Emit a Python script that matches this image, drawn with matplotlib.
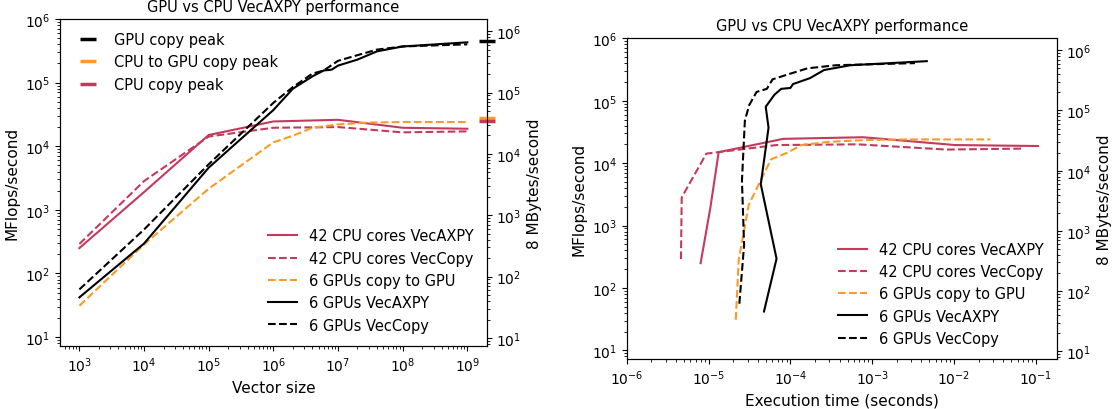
import matplotlib
matplotlib.use('Agg')
import matplotlib.pyplot as plt

RED = '#c43a5c'
ORANGE = '#fb9a29'

# CPU runs (42 cores)
cpu_n = [1e3, 1e4, 1e5, 1e6, 1e7, 1e8, 1e9]
cpu_axpy = [250, 1900, 1.5e4, 2.45e4, 2.6e4, 1.95e4, 1.88e4]
cpu_copy = [290, 2830, 1.42e4, 1.95e4, 2.0e4, 1.65e4, 1.71e4]
cpu_axpy_t = [8.0e-6, 1.05e-5, 1.33e-5, 8.2e-5, 7.7e-4, 1.03e-2, 0.106]
cpu_copy_t = [4.6e-6, 4.7e-6, 9.4e-6, 6.8e-5, 6.7e-4, 8.1e-3, 0.068]

# copy to GPU (6 GPUs)
h2d_n = [1e3, 1e4, 1e5, 1e6, 2e6, 4e6, 1e7, 3e7, 1e8, 1e9]
h2d = [31, 285, 2150, 1.15e4, 1.46e4, 1.95e4, 2.2e4, 2.35e4, 2.4e4, 2.4e4]
h2d_t = [2.15e-5, 2.34e-5, 3.1e-5, 5.8e-5, 9.13e-5, 1.37e-4, 3.03e-4, 8.5e-4, 2.78e-3, 2.78e-2]

# GPU VecAXPY (6 GPUs)
gaxpy_n = [1e3, 1e4, 1e5, 1e6, 2e6, 4e6, 6e6, 8e6, 1e7, 2e7, 4e7, 1e8, 1e9]
gaxpy = [42, 295, 4600, 3.7e4, 8e4, 1.25e5, 1.55e5, 1.6e5, 1.85e5, 2.3e5, 3.1e5, 3.7e5, 4.3e5]
gaxpy_t = [4.76e-5, 6.78e-5, 4.35e-5, 5.41e-5, 5.0e-5, 6.4e-5, 7.74e-5, 1.0e-4, 1.08e-4,
           1.74e-4, 2.58e-4, 5.41e-4, 4.65e-3]

# GPU VecCopy (6 GPUs)
gcopy_n = [1e3, 1e4, 1e5, 1e6, 2e6, 4e6, 6e6, 1e7, 2e7, 4e7, 1e8, 1e9]
gcopy = [56, 490, 5200, 4.8e4, 8.5e4, 1.38e5, 1.55e5, 2.2e5, 2.7e5, 3.3e5, 3.7e5, 4.0e5]
gcopy_t = [2.38e-5, 2.72e-5, 2.56e-5, 2.78e-5, 3.14e-5, 3.86e-5, 5.16e-5, 6.06e-5, 9.88e-5,
           1.62e-4, 3.6e-4, 3.33e-3]

# peaks (right axis units)
peak_names = ['GPU copy peak', 'CPU to GPU copy peak', 'CPU copy peak']
peak_vals = [6.9e5, 3.9e4, 3.5e4]
peak_cols = ['k', ORANGE, RED]

TITLE = 'GPU vs CPU VecAXPY performance'


def draw_series(ax, xs):
    ax.loglog(xs[0], cpu_axpy, color=RED, lw=1.5, label='42 CPU cores VecAXPY')
    ax.loglog(xs[1], cpu_copy, '--', color=RED, lw=1.5, label='42 CPU cores VecCopy')
    ax.loglog(xs[2], h2d, '--', color=ORANGE, lw=1.5, label='6 GPUs copy to GPU')
    ax.loglog(xs[3], gaxpy, color='k', lw=1.5, label='6 GPUs VecAXPY')
    ax.loglog(xs[4], gcopy, '--', color='k', lw=1.5, label='6 GPUs VecCopy')
    ax.set_ylim(7.3, 1e6)
    ax.set_ylabel('MFlops/second', fontsize=11)
    ax.set_title(TITLE, fontsize=10.5)
    ax.tick_params(labelsize=10)
    ax.legend(loc='lower right', frameon=False, fontsize=10.5)


fig = plt.figure(figsize=(11.13, 4.10), dpi=100)

# left: vs vector size
ax1 = fig.add_axes([0.0539, 0.1544, 0.3834, 0.7968])
draw_series(ax1, [cpu_n, cpu_n, h2d_n, gaxpy_n, gcopy_n])
ax1.set_xlim(10**2.7, 10**9.3)
ax1.set_xlabel('Vector size', fontsize=11)

ax1b = ax1.twinx()
ax1b.set_yscale('log')
ax1b.set_ylim(7.5, 1.58e6)
for name, val, col in zip(peak_names, peak_vals, peak_cols):
    ax1b.plot([10**9.3], [val], '_', color=col, ms=12, mew=2.5, clip_on=False, label=name)
ax1b.legend(loc='upper left', frameon=False, fontsize=10.5)
ax1b.set_ylabel('8 MBytes/second', fontsize=11)
ax1b.tick_params(labelsize=10)

# right: vs execution time
ax2 = fig.add_axes([0.5631, 0.122, 0.3863, 0.7822])
draw_series(ax2, [cpu_axpy_t, cpu_copy_t, h2d_t, gaxpy_t, gcopy_t])
ax2.set_xlim(1e-6, 0.18)
ax2.set_xlabel('Execution time (seconds)', fontsize=11)

ax2b = ax2.twinx()
ax2b.set_yscale('log')
ax2b.set_ylim(7.5, 1.58e6)
ax2b.set_ylabel('8 MBytes/second', fontsize=11)
ax2b.tick_params(labelsize=10)

fig.savefig('out.png', dpi=100)
